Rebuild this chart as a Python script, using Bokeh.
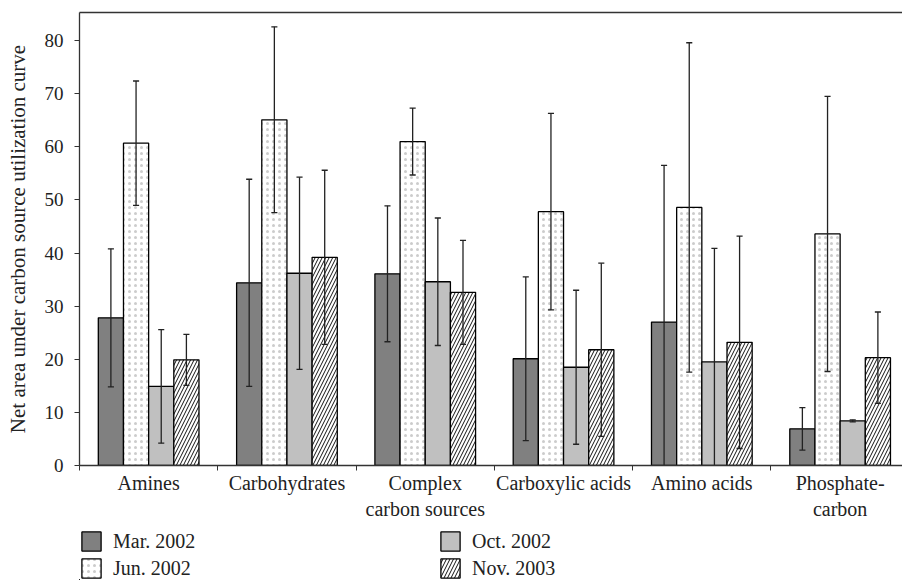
from bokeh.plotting import figure
from bokeh.layouts import column
from bokeh.models import (Range1d, FixedTicker, LinearAxis, Legend, LegendItem,
                          ColumnDataSource)
from bokeh.embed import file_html
from bokeh.resources import INLINE

# ---------------- data ----------------
categories = ["Amines", "Carbohydrates", "Complex\ncarbon sources",
              "Carboxylic acids", "Amino acids", "Phosphate-\ncarbon"]
series_names = ["Mar. 2002", "Jun. 2002", "Oct. 2002", "Nov. 2003"]

mar = [27.8, 34.4, 36.1, 20.1, 27.0, 6.9]
mar_err = [13.0, 19.5, 12.8, 15.4, 29.5, 4.0]
jun = [60.7, 65.1, 61.0, 47.8, 48.6, 43.6]
jun_err = [11.7, 17.5, 6.3, 18.5, 31.0, 25.9]
oct_ = [14.9, 36.2, 34.6, 18.5, 19.5, 8.4]
oct_err = [10.7, 18.1, 12.0, 14.5, 21.4, 0.2]
nov = [19.9, 39.2, 32.6, 21.8, 23.2, 20.3]
nov_err = [4.8, 16.4, 9.8, 16.3, 20.0, 8.6]

y_ticks = [0, 10, 20, 30, 40, 50, 60, 70, 80]
y_label = "Net area under carbon source utilization curve"

# ---------------- figure ----------------
FONT = "Liberation Serif"
TXT = "#222222"
AX = "#333333"

n = len(categories)
bar_w = 0.182
offsets = [-1.5, -0.5, 0.5, 1.5]
cap_half = 0.022

p = figure(width=902, height=523,
           x_range=Range1d(0, 5.951), y_range=Range1d(0, 85.3),
           output_backend="svg", toolbar_location=None,
           min_border_left=79, min_border_right=0,
           min_border_top=12, min_border_bottom=58)
p.xgrid.visible = False
p.ygrid.visible = False
p.outline_line_color = None
p.background_fill_color = "white"
p.border_fill_color = "white"

# x axis (bottom)
xa = p.below[0]
centers = [i + 0.5 for i in range(n)]
bounds = [i for i in range(n + 1)]
xa.ticker = FixedTicker(ticks=centers, minor_ticks=bounds)
xa.major_label_overrides = {c: lab for c, lab in zip(centers, categories)}
xa.major_tick_in = 0
xa.major_tick_out = 0
xa.minor_tick_in = 0
xa.minor_tick_out = 5
xa.minor_tick_line_color = AX
xa.axis_line_color = AX
xa.axis_line_width = 1.3
xa.major_label_text_font = FONT
xa.major_label_text_font_size = "20px"
xa.major_label_text_color = TXT
xa.major_label_standoff = 1

# top frame line
top_axis = LinearAxis(ticker=FixedTicker(ticks=[]), major_label_text_font_size="0px",
                      major_tick_in=0, major_tick_out=0, minor_tick_in=0, minor_tick_out=0,
                      major_label_standoff=0, axis_line_color=AX, axis_line_width=1.3)
p.add_layout(top_axis, "above")

# y axis
ya = p.left[0]
ya.ticker = FixedTicker(ticks=y_ticks)
ya.major_tick_in = 0
ya.major_tick_out = 5
ya.minor_tick_out = 0
ya.minor_tick_in = 0
ya.major_tick_line_color = AX
ya.axis_line_color = AX
ya.axis_line_width = 1.3
ya.major_label_text_font = FONT
ya.major_label_text_font_size = "19px"
ya.major_label_text_color = TXT
ya.major_label_standoff = 11
ya.axis_label = y_label
ya.axis_label_text_font = FONT
ya.axis_label_text_font_size = "21px"
ya.axis_label_text_font_style = "normal"
ya.axis_label_text_color = TXT
ya.axis_label_standoff = 12

# ---------------- bars ----------------
values = [mar, jun, oct_, nov]
errors = [mar_err, jun_err, oct_err, nov_err]
styles = [
    dict(fill_color="#808080"),
    dict(fill_color="white", hatch_pattern="dot", hatch_color="#cccccc",
         hatch_scale=6, hatch_weight=0.8),
    dict(fill_color="#c0c0c0"),
    dict(fill_color="white", hatch_pattern="right_diagonal_line", hatch_color="#111111",
         hatch_scale=7, hatch_weight=1),
]

# legend-only figure below the chart (its ranges keep the series data out of view)
p2 = figure(width=902, height=57, x_range=Range1d(100, 101), y_range=Range1d(100, 101),
            output_backend="svg", toolbar_location=None,
            x_axis_type=None, y_axis_type=None,
            min_border_left=79, min_border_right=0, min_border_top=0, min_border_bottom=0)
p2.xgrid.visible = False
p2.ygrid.visible = False
p2.outline_line_color = None
p2.background_fill_color = "white"
p2.border_fill_color = "white"

items = []
for name, vals, errs, off, st in zip(series_names, values, errors, offsets, styles):
    xs = [c + off * bar_w for c in centers]
    src = ColumnDataSource(dict(
        x=xs, top=vals,
        upper=[v + e for v, e in zip(vals, errs)],
        lower=[v - e for v, e in zip(vals, errs)],
        cx0=[x - cap_half for x in xs], cx1=[x + cap_half for x in xs],
    ))
    p.vbar(x="x", top="top", bottom=0, width=bar_w, source=src,
           line_color="black", line_width=1.3, **st)
    p.segment(x0="x", y0="lower", x1="x", y1="upper", source=src,
              line_color="#222222", line_width=1.3)
    p.segment(x0="cx0", y0="upper", x1="cx1", y1="upper", source=src,
              line_color="#222222", line_width=1.3)
    p.segment(x0="cx0", y0="lower", x1="cx1", y1="lower", source=src,
              line_color="#222222", line_width=1.3)
    r2 = p2.vbar(x="x", top="top", bottom=0, width=bar_w, source=src,
                 line_color="black", line_width=1.3, **st)
    items.append(LegendItem(label=name, renderers=[r2]))

legend = Legend(items=items, ncols=2, location=(0, 0),
                glyph_width=24, glyph_height=24, label_height=20,
                label_standoff=10, label_width=322, spacing=3,
                padding=0, margin=0, border_line_color=None,
                background_fill_alpha=0,
                label_text_font=FONT, label_text_font_size="20px",
                label_text_color=TXT)
p2.add_layout(legend)

layout = column(p, p2, spacing=0)
open("out.html", "w").write(file_html(layout, INLINE))
